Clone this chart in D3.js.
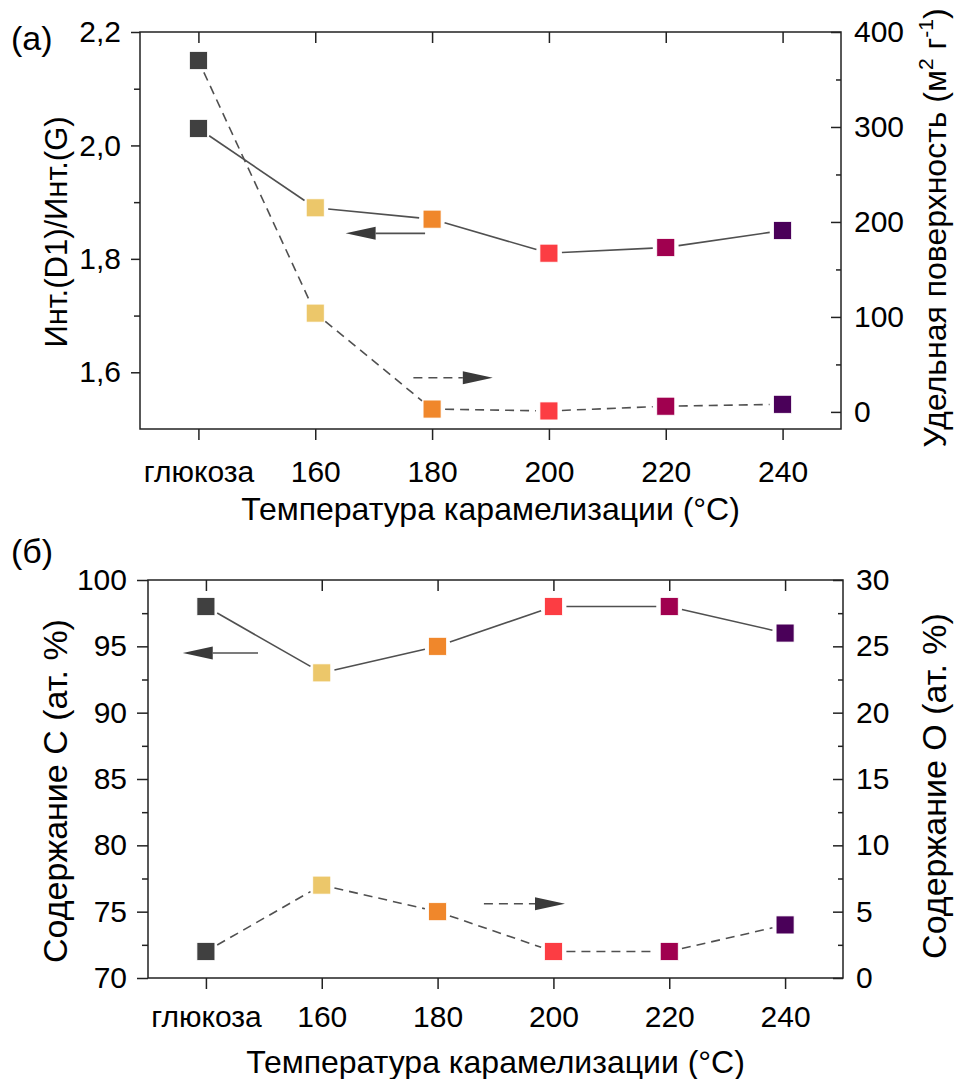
<!DOCTYPE html>
<html>
<head>
<meta charset="utf-8">
<script src="https://cdn.jsdelivr.net/npm/d3@7"></script>
<style>
  body { margin: 0; background: #fff; }
  text { font-family: "Liberation Sans", Arial, sans-serif; fill: #000; }
</style>
</head>
<body>
<svg id="chart" width="954" height="1079"></svg>
<script>
// ---------- data ----------
const categories = ["глюкоза", "160", "180", "200", "220", "240"];
const markerColors = ["#404040", "#ecc76a", "#f0872b", "#fc3d43", "#a0004f", "#4a0059"];

// panel (a)
const ratioD1G = [2.03, 1.89, 1.87, 1.81, 1.82, 1.85];     // left axis
const surfaceArea = [370, 104, 3, 1, 6, 8];               // right axis, m2/g
const ratioTicks = [1.6, 1.8, 2.0, 2.2];
const ratioMinor = [1.7, 1.9, 2.1];
const surfaceTicks = [0, 100, 200, 300, 400];
const surfaceMinor = [50, 150, 250, 350];

// panel (б)
const carbon = [98, 93, 95, 98, 98, 96];                   // left axis, at.%
const oxygen = [2, 7, 5, 2, 2, 4];                         // right axis, at.%
const carbonTicks = [70, 75, 80, 85, 90, 95, 100];
const carbonMinor = [72.5, 77.5, 82.5, 87.5, 92.5, 97.5];
const oxygenTicks = [0, 5, 10, 15, 20, 25, 30];
const oxygenMinor = [2.5, 7.5, 12.5, 17.5, 22.5, 27.5];

// arrow annotations (category-index, value)
const arrowsA = [
  { x0: 1.94, x1: 1.26, y: 1.845, axis: "left", dashed: false },
  { x0: 1.84, x1: 2.52, y: 36, axis: "right", dashed: true }
];
const arrowsB = [
  { x0: 0.45, x1: -0.2, y: 94.5, axis: "left", dashed: false },
  { x0: 2.40, x1: 3.10, y: 5.6, axis: "right", dashed: true }
];

const svg = d3.select("#chart");
const TICK_FS = 30, TITLE_FS = 32, PANEL_FS = 34;
const lineColor = "#505050";

function drawPanel(cfg) {
  const { left, right, top, bottom } = cfg;
  const x = d3.scaleLinear().domain([-0.5, 5.5]).range([left, right]);
  const yL = d3.scaleLinear().domain(cfg.leftDomain).range([bottom, top]);
  const yR = d3.scaleLinear().domain(cfg.rightDomain).range([bottom, top]);
  const g = svg.append("g");

  // frame
  g.append("rect").attr("x", left).attr("y", top)
    .attr("width", right - left).attr("height", bottom - top)
    .attr("fill", "none").attr("stroke", "#222").attr("stroke-width", 1.5);

  const styleAxis = sel => {
    sel.select(".domain").remove();
    sel.selectAll("line").attr("stroke", "#222").attr("stroke-width", 1.5);
    sel.selectAll("text").style("font-size", TICK_FS + "px")
      .style("font-family", '"Liberation Sans", Arial, sans-serif').attr("fill", "#000");
  };

  // bottom axis (outward) with labels
  g.append("g").attr("transform", `translate(0,${bottom})`)
    .call(d3.axisBottom(x).tickValues(d3.range(categories.length))
      .tickFormat(i => categories[i]).tickSize(11).tickPadding(cfg.xPad).tickSizeOuter(0))
    .call(styleAxis);
  // top axis (inward), no labels
  g.append("g").attr("transform", `translate(0,${top})`)
    .call(d3.axisTop(x).tickValues(d3.range(categories.length))
      .tickFormat("").tickSize(-11).tickSizeOuter(0))
    .call(styleAxis);

  // left axis (outward)
  g.append("g").attr("transform", `translate(${left},0)`)
    .call(d3.axisLeft(yL).tickValues(cfg.leftTicks).tickFormat(cfg.leftFmt)
      .tickSize(cfg.leftTick).tickPadding(10).tickSizeOuter(0))
    .call(styleAxis);
  g.append("g").attr("transform", `translate(${left},0)`)
    .call(d3.axisLeft(yL).tickValues(cfg.leftMinor).tickFormat("")
      .tickSize(6).tickSizeOuter(0))
    .call(styleAxis);

  // right axis (inward ticks, labels outside)
  g.append("g").attr("transform", `translate(${right},0)`)
    .call(d3.axisRight(yR).tickValues(cfg.rightTicks).tickFormat(d3.format("d"))
      .tickSize(-10).tickPadding(13).tickSizeOuter(0))
    .call(styleAxis);
  g.append("g").attr("transform", `translate(${right},0)`)
    .call(d3.axisRight(yR).tickValues(cfg.rightMinor).tickFormat("")
      .tickSize(-5).tickSizeOuter(0))
    .call(styleAxis);

  // series lines with gaps around markers
  const gap = 13;
  function drawSeries(vals, yS, dashed) {
    const pts = vals.map((v, i) => [x(i), yS(v)]);
    for (let i = 0; i < pts.length - 1; i++) {
      const [x0, y0] = pts[i], [x1, y1] = pts[i + 1];
      const dx = x1 - x0, dy = y1 - y0, L = Math.hypot(dx, dy);
      if (L <= 2 * gap) continue;
      const ux = dx / L, uy = dy / L;
      g.append("line")
        .attr("x1", x0 + ux * gap).attr("y1", y0 + uy * gap)
        .attr("x2", x1 - ux * gap).attr("y2", y1 - uy * gap)
        .attr("stroke", lineColor).attr("stroke-width", 1.6)
        .attr("stroke-dasharray", dashed ? "9,6" : null);
    }
    const s = 18;
    g.selectAll(null).data(vals).enter().append("rect")
      .attr("x", (d, i) => x(i) - s / 2).attr("y", d => yS(d) - s / 2)
      .attr("width", s).attr("height", s)
      .attr("fill", (d, i) => markerColors[i])
      .attr("stroke", "#fff").attr("stroke-width", 0.8);
  }
  drawSeries(cfg.leftVals, yL, false);
  drawSeries(cfg.rightVals, yR, true);

  // arrows
  cfg.arrows.forEach(a => {
    const yS = a.axis === "left" ? yL : yR;
    const ax0 = x(a.x0), ax1 = x(a.x1), ay = yS(a.y);
    const dir = Math.sign(ax1 - ax0);
    const headLen = 30, headH = 6.5;
    g.append("line").attr("x1", ax0).attr("y1", ay)
      .attr("x2", ax1 - dir * headLen).attr("y2", ay)
      .attr("stroke", lineColor).attr("stroke-width", 1.6)
      .attr("stroke-dasharray", a.dashed ? "9,6" : null);
    g.append("path")
      .attr("d", `M${ax1},${ay} L${ax1 - dir * headLen},${ay - headH} L${ax1 - dir * headLen},${ay + headH} Z`)
      .attr("fill", "#3a3a3a");
  });

  // axis titles
  g.append("text").attr("x", (left + right) / 2).attr("y", cfg.xTitleY)
    .attr("text-anchor", "middle").style("font-size", TITLE_FS + "px").text("Температура карамелизации (°C)");
  g.append("text").attr("transform", `translate(67,${cfg.leftTitleY}) rotate(-90)`)
    .attr("text-anchor", "middle").style("font-size", cfg.leftTitleFS + "px").text(cfg.leftTitle);
  const rt = g.append("text").attr("transform", `translate(946,${cfg.rightTitleY}) rotate(-90)`)
    .attr("text-anchor", "middle").style("font-size", cfg.rightTitleFS + "px");
  cfg.rightTitle(rt);

  // panel label
  g.append("text").attr("x", 11).attr("y", cfg.panelY).style("font-size", PANEL_FS + "px").text(cfg.panel);
}

drawPanel({
  left: 140, right: 841, top: 32, bottom: 429,
  leftDomain: [1.5, 2.2], rightDomain: [-18, 400],
  leftTicks: ratioTicks, leftMinor: ratioMinor, leftFmt: d => d3.format(".1f")(d).replace(".", ","),
  leftTick: 9,
  rightTicks: surfaceTicks, rightMinor: surfaceMinor,
  leftVals: ratioD1G, rightVals: surfaceArea,
  arrows: arrowsA, xPad: 21, xTitleY: 520,
  leftTitle: "Инт.(D1)/Инт.(G)", leftTitleY: 232, leftTitleFS: 31,
  rightTitleY: 228, rightTitleFS: 32,
  rightTitle: t => {
    t.append("tspan").text("Удельная поверхность (м");
    t.append("tspan").attr("dy", -13).style("font-size", "21px").text("2");
    t.append("tspan").attr("dy", 13).text(" г");
    t.append("tspan").attr("dy", -13).style("font-size", "21px").text("-1");
    t.append("tspan").attr("dy", 13).text(")");
  },
  panel: "(a)", panelY: 50
});

drawPanel({
  left: 148, right: 843, top: 580, bottom: 978,
  leftDomain: [70, 100], rightDomain: [0, 30],
  leftTicks: carbonTicks, leftMinor: carbonMinor, leftFmt: d3.format("d"),
  leftTick: 11,
  rightTicks: oxygenTicks, rightMinor: oxygenMinor,
  leftVals: carbon, rightVals: oxygen,
  arrows: arrowsB, xPad: 17, xTitleY: 1073,
  leftTitle: "Содержание C (ат. %)", leftTitleY: 791, leftTitleFS: 34,
  rightTitleY: 786, rightTitleFS: 34,
  rightTitle: t => t.text("Содержание O (ат. %)"),
  panel: "(б)", panelY: 563
});
</script>
</body>
</html>
